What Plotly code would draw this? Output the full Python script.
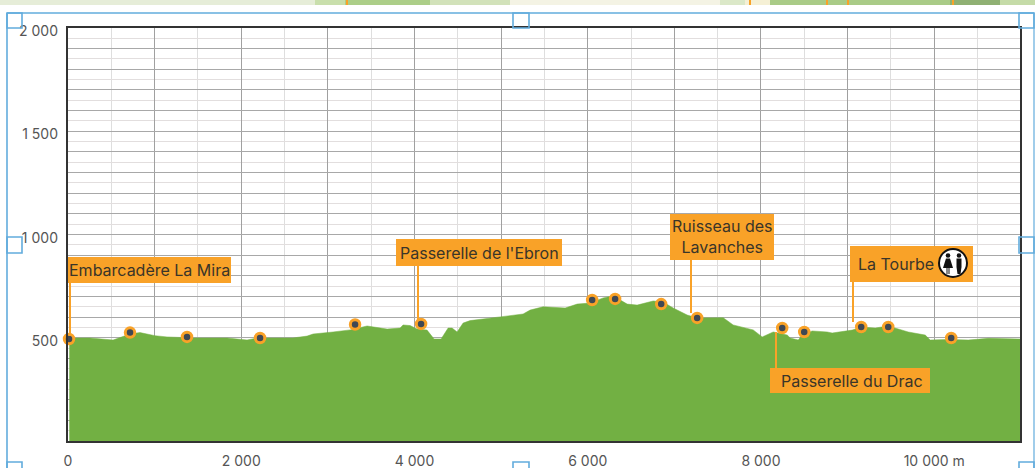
import plotly.graph_objects as go

# ---- data ----
profile_x = [15, 254, 520, 624, 716, 831, 1005, 1143, 1443, 1836, 2067, 2182, 2598, 2760, 2829, 3060, 3256, 3453,
             3684, 3834, 3868, 3949, 4030, 4145, 4203, 4226, 4307, 4388, 4434, 4492, 4561, 4642, 4988, 5254, 5335,
             5485, 5739, 5878, 6028, 6178, 6293, 6455, 6570, 6755, 6871, 6986, 7148, 7263, 7564, 7679, 7910, 8014,
             8141, 8303, 8337, 8430, 8476, 8591, 8764, 8822, 9053, 9169, 9319, 9469, 9700, 9896, 9954, 10162, 10393,
             10624, 10990]
profile_y = [499, 499, 489, 504, 518, 525, 510, 504, 499, 499, 489, 499, 499, 508, 518, 528, 538, 557,
             542, 547, 562, 559, 542, 537, 504, 494, 494, 547, 547, 528, 571, 583, 601, 615, 634,
             650, 644, 663, 668, 693, 703, 663, 658, 678, 673, 644, 610, 596, 597, 562, 538, 504,
             528, 513, 499, 489, 513, 533, 528, 523, 537, 552, 547, 557, 528, 513, 489, 492, 489,
             497, 494]
stop_x = [12, 716, 1374, 2217, 3314, 4076, 6051, 6316, 6848, 7263, 8245, 8499, 9157, 9469, 10196]
stop_y = [494, 525, 504, 499, 564, 567, 683, 688, 663, 596, 547, 528, 552, 552, 499]
y_tick_vals = [500, 1000, 1500, 2000]
y_tick_text = ["500", "1 000", "1 500", "2 000"]
x_tick_vals = [0, 1000, 2000, 3000, 4000, 5000, 6000, 7000, 8000, 9000, 10000]
x_tick_text = ["0", "", "2 000", "", "4 000", "", "6 000", "", "8 000", "", "10 000 m"]
label_names = ["Embarcadère La Mira", "Passerelle de l'Ebron", "Ruisseau des<br>Lavanches", "La Tourbe", "Passerelle du Drac"]

# ---- layout helpers (pixel -> paper) ----
W, H = 1035, 468
L, R, T, B = 68, 15, 28, 27
PW, PH = W - L - R, H - T - B
def fx(p): return (p - L) / PW
def fy(p): return 1 - (p - T) / PH

ORANGE = "#F9A228"
GREEN = "#72B043"
BLUE = "#62ACDD"
TEXT = "#3a3529"
FONT = "Inter"

shapes, annots = [], []
def rect(x0, y0, x1, y1, fill="rgba(0,0,0,0)", line=None, lw=0):
    shapes.append(dict(type="rect", xref="paper", yref="paper", x0=fx(x0), x1=fx(x1), y0=fy(y0), y1=fy(y1),
                       fillcolor=fill, line=dict(color=line or fill, width=lw), layer="above"))
def seg(x0, y0, x1, y1, color, lw):
    shapes.append(dict(type="line", xref="paper", yref="paper", x0=fx(x0), x1=fx(x1), y0=fy(y0), y1=fy(y1),
                       line=dict(color=color, width=lw), layer="above"))
def disc(cx, cy, r, fill, line=None, lw=0):
    shapes.append(dict(type="circle", xref="paper", yref="paper", x0=fx(cx - r), x1=fx(cx + r), y0=fy(cy + r), y1=fy(cy - r),
                       fillcolor=fill, line=dict(color=line or fill, width=lw), layer="above"))
def poly(pts, fill):
    path = "M " + " L ".join(f"{fx(a):.5f},{fy(b):.5f}" for a, b in pts) + " Z"
    shapes.append(dict(type="path", xref="paper", yref="paper", path=path, fillcolor=fill,
                       line=dict(width=0), layer="above"))
def text(cx, cy, s, size=16, color=TEXT):
    annots.append(dict(xref="paper", yref="paper", x=fx(cx), y=fy(cy), text=s, showarrow=False,
                       xanchor="center", yanchor="middle", font=dict(family=FONT, size=size, color=color)))

# top photo strip
for x0, x1, c in [(0, 315, "#e6edd8"), (315, 345, "#c9dfac"), (345, 430, "#acce88"), (430, 510, "#d2e2ba"),
                  (510, 720, "#f4f3e4"), (720, 745, "#dbe8c8"), (745, 770, "#f5f0d5"), (770, 950, "#a9cb87"),
                  (950, 1000, "#8fb073"), (1000, 1035, "#c5dba8")]:
    rect(x0, 0, x1, 5, c)
for x in [347, 750, 827, 848, 953]:
    rect(x - 1, 0, x + 1, 5, ORANGE)

# selection frame
seg(7, 13, 1034, 13, BLUE, 1.6)
seg(7, 13, 7, 468, BLUE, 1.6)
seg(1034, 13, 1034, 468, BLUE, 1.2)
for x0, y0, x1, y1 in [(7, 13, 22, 28), (513, 13, 529, 28), (1019, 13, 1034, 28),
                       (7, 237, 22, 253), (1019, 237, 1034, 253), (7, 462, 22, 472), (513, 462, 529, 472), (1019, 462, 1034, 472)]:
    rect(x0, y0, x1, y1, line=BLUE, lw=1.6)

# leaders
for x0, y0, x1, y1 in [(70, 283, 70, 336), (418, 266, 418, 320), (691, 259, 691, 313), (853, 282, 853, 322), (776, 332, 776, 368)]:
    seg(x0, y0, x1, y1, ORANGE, 2)

# label boxes
boxes = [(68, 257, 231, 283), (396, 239, 562, 266), (670, 214, 774, 260), (850, 246, 973, 282), (770, 368, 930, 393)]
centers = [(149, 270), (479, 252.5), (722, 236.5), (896, 263.5), (852, 380.5)]
for (x0, y0, x1, y1), (cx, cy), name in zip(boxes, centers, label_names):
    rect(x0, y0, x1, y1, ORANGE)
    text(cx, cy, name)

# La Tourbe pictogram
disc(953, 263, 14, "white", "#111111", 2)
disc(948, 255.5, 2.3, "#111111")
disc(959, 255.5, 2.3, "#111111")
poly([(946, 258.5), (950, 258.5), (953, 268), (943, 268)], "#111111")
poly([(946.5, 268), (947.5, 268), (947.5, 274), (946.5, 274)], "#111111")
poly([(948.5, 268), (949.5, 268), (949.5, 274), (948.5, 274)], "#111111")
poly([(956.5, 258.5), (961.5, 258.5), (961.5, 267), (960.5, 274), (957.5, 274), (956.5, 267)], "#111111")

fig = go.Figure()
fig.add_trace(go.Scatter(x=profile_x, y=profile_y, mode="lines", fill="tozeroy", fillcolor=GREEN,
                         line=dict(color=GREEN, width=0.5), hoverinfo="skip"))
fig.add_trace(go.Scatter(x=stop_x, y=stop_y, mode="markers", cliponaxis=False,
                         marker=dict(size=9.5, color="#3f4854", line=dict(color=ORANGE, width=3))))
fig.add_trace(go.Scatter(x=[0], y=[100], yaxis="y2", mode="markers", marker=dict(opacity=0), hoverinfo="skip"))

fig.update_layout(
    width=W, height=H, autosize=False, showlegend=False,
    margin=dict(l=L, r=R, t=T, b=B, pad=0, autoexpand=False),
    paper_bgcolor="white", plot_bgcolor="white",
    font=dict(family=FONT, size=14, color="#555555"),
    shapes=shapes, annotations=annots,
    xaxis=dict(range=[0, 10990], tickmode="array", tickvals=x_tick_vals, ticktext=x_tick_text,
               showgrid=True, gridcolor="#a0a0a0", gridwidth=1.3, zeroline=False, ticks="", ticklabelstandoff=6,
               automargin=False, showline=True, linecolor="#333333", linewidth=1.5, mirror=True,
               minor=dict(tickmode="linear", tick0=0, dtick=500, showgrid=True, gridcolor="#dedede", gridwidth=1)),
    yaxis=dict(range=[0, 2000], showticklabels=False, ticks="", tickmode="linear", tick0=0, dtick=100,
               showgrid=True, gridcolor="#a8a8a8", gridwidth=1, zeroline=False, automargin=False,
               showline=True, linecolor="#333333", linewidth=1.5, mirror=True,
               minor=dict(tickmode="linear", tick0=0, dtick=50, showgrid=True, gridcolor="#e2dede", gridwidth=1)),
    yaxis2=dict(range=[15, 2015], overlaying="y", side="left", tickmode="array", tickvals=y_tick_vals,
                ticktext=y_tick_text, showgrid=False, zeroline=False, ticks="", ticklabelstandoff=9,
                automargin=False, showline=False),
)

fig.write_html("out.html", config=dict(displayModeBar=False),
               post_script="document.body.style.margin='0';document.body.style.overflow='hidden';")
